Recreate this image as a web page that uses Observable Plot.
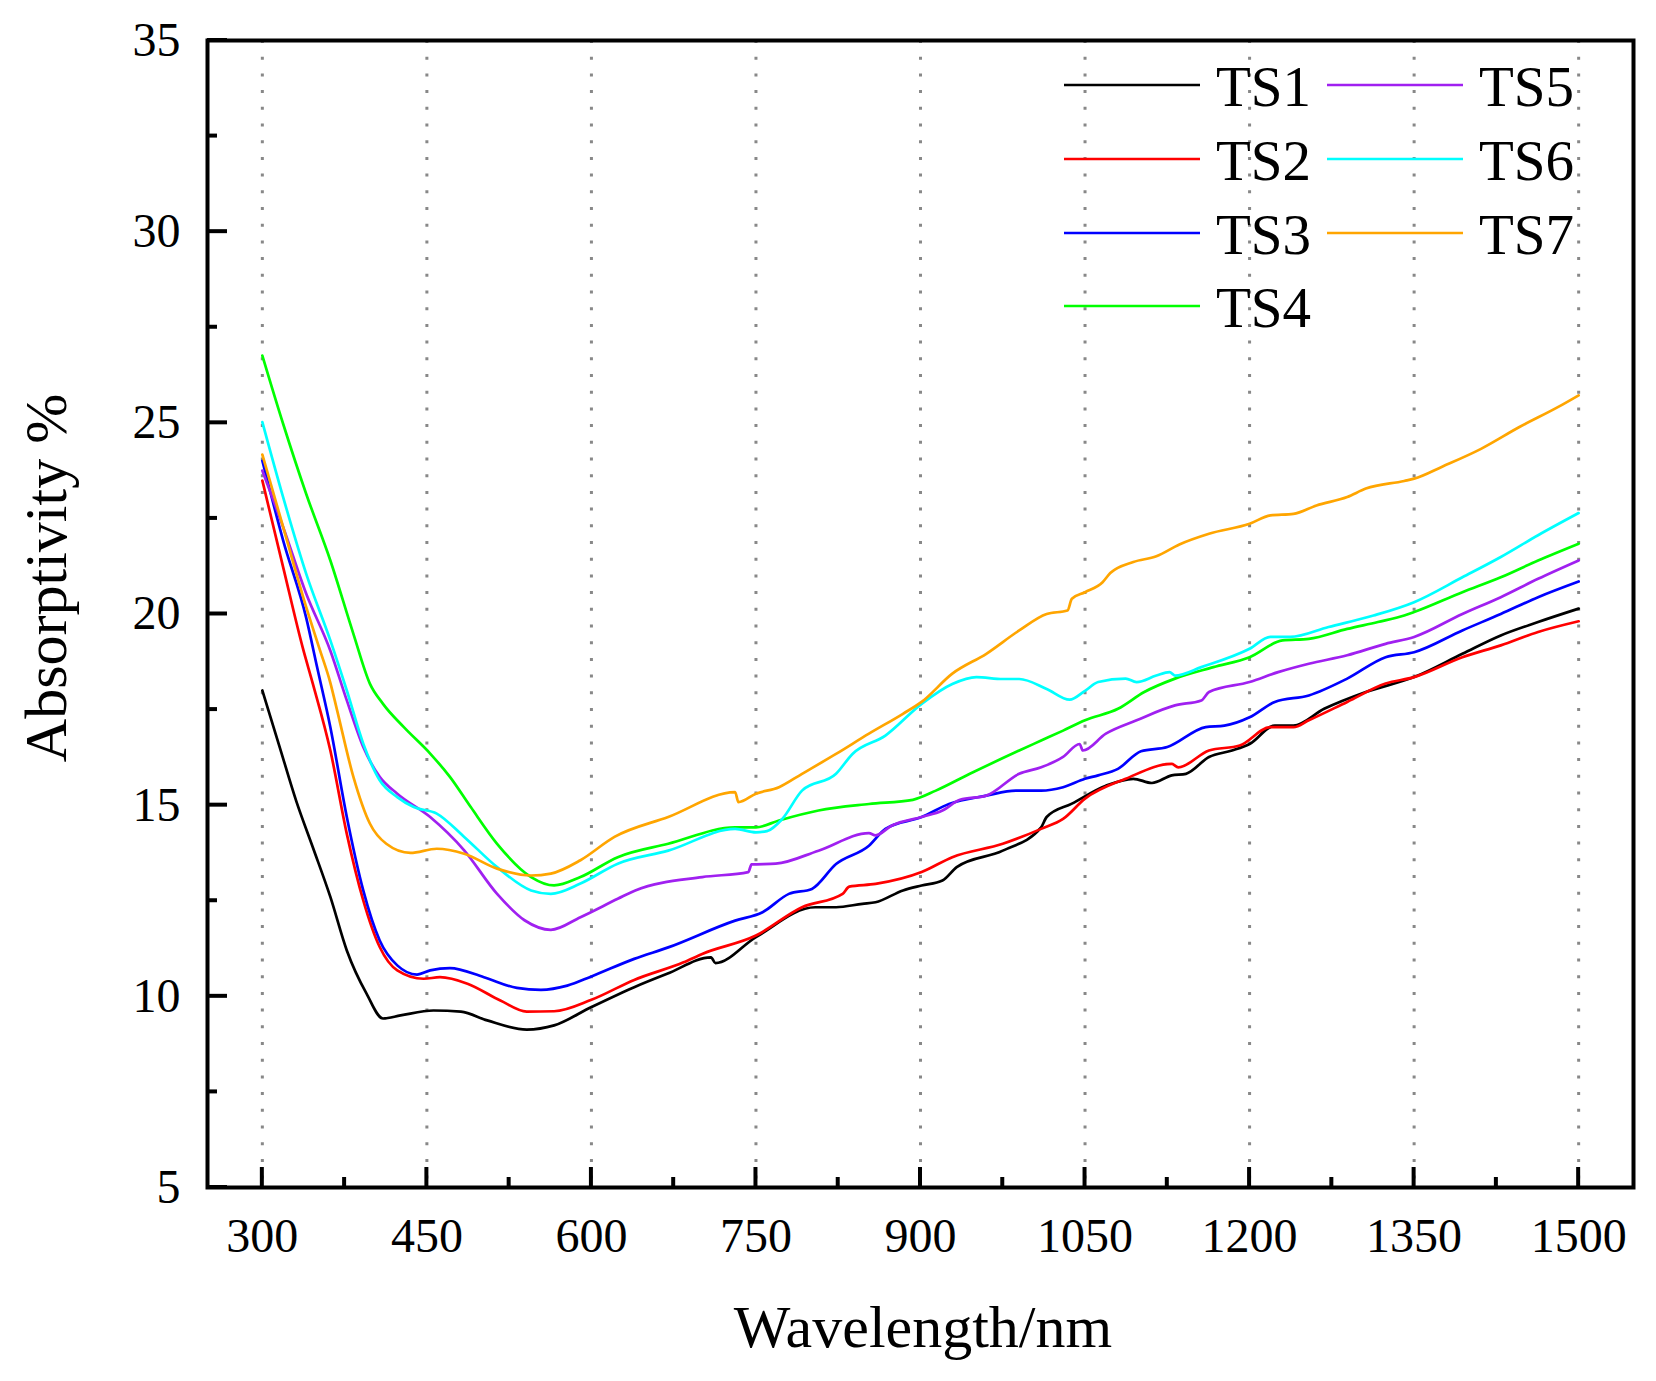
<!DOCTYPE html>
<html>
<head>
<meta charset="utf-8">
<script src="https://cdn.jsdelivr.net/npm/d3@7"></script>
<script src="https://cdn.jsdelivr.net/npm/@observablehq/plot@0.6"></script>
<style>
  html, body { margin: 0; padding: 0; background: #fff; }
  svg { display: block; }
</style>
</head>
<body>
<div id="chart"></div>
<script>
// ---- data (wavelength nm, absorptivity %) ----
const seriesNames = ["TS1", "TS2", "TS3", "TS4", "TS5", "TS6", "TS7"];
const seriesColors = ["#000000", "#ff0000", "#0000ff", "#00ff00", "#a020f0", "#00ffff", "#ffa500"];

const TS1 = [[300,18.0],[316,16.5],[331,15.1],[346,13.9],[362,12.6],[377,11.2],[395,10.07],[410,9.42],[426,9.5],[456,9.63],[481,9.6],[505,9.37],[541,9.13],[566,9.24],[600,9.72],[639,10.24],[669,10.59],[709,11.02],[713,10.87],[750,11.55],[804,12.33],[823,12.33],[847,12.42],[859,12.46],[884,12.77],[901,12.9],[920,13.03],[933,13.38],[975,13.81],[1010,14.42],[1015,14.69],[1038,15.04],[1069,15.51],[1094,15.69],[1111,15.58],[1129,15.78],[1142,15.82],[1163,16.26],[1184,16.43],[1200,16.6],[1223,17.08],[1240,17.08],[1268,17.52],[1306,17.96],[1350,18.35],[1394,18.96],[1429,19.44],[1463,19.79],[1500,20.14]];

const TS2 = [[300,23.49],[319,21.22],[337,19.1],[346,18.18],[362,16.43],[377,14.25],[392,12.51],[407,11.29],[423,10.68],[447,10.46],[462,10.5],[487,10.33],[517,9.89],[541,9.6],[566,9.61],[600,9.91],[639,10.43],[684,10.89],[701,11.11],[750,11.59],[792,12.33],[829,12.68],[835,12.87],[859,12.94],[901,13.25],[929,13.64],[975,13.99],[1010,14.38],[1030,14.64],[1050,15.17],[1087,15.69],[1129,16.08],[1135,15.99],[1163,16.43],[1191,16.56],[1219,17.04],[1240,17.04],[1254,17.22],[1289,17.7],[1324,18.18],[1350,18.35],[1394,18.87],[1429,19.18],[1463,19.53],[1500,19.81]];

const TS3 = [[300,24.01],[319,21.92],[340,19.9],[350,18.6],[362,17.04],[377,14.69],[392,12.77],[407,11.46],[423,10.81],[441,10.57],[453,10.68],[471,10.74],[502,10.5],[532,10.22],[554,10.17],[578,10.28],[600,10.52],[639,10.98],[670,11.28],[731,11.98],[756,12.2],[780,12.68],[801,12.81],[823,13.46],[853,13.94],[868,14.38],[901,14.69],[926,15.03],[960,15.25],[987,15.38],[1010,15.38],[1030,15.47],[1050,15.69],[1062,15.78],[1080,15.95],[1101,16.41],[1125,16.52],[1160,17.04],[1177,17.08],[1200,17.3],[1223,17.7],[1254,17.87],[1289,18.31],[1324,18.87],[1350,19.0],[1394,19.57],[1429,20.0],[1463,20.44],[1500,20.85]];

const TS4 = [[300,26.76],[319,24.97],[340,23.14],[362,21.4],[383,19.48],[398,18.18],[410,17.65],[429,17.04],[453,16.35],[471,15.74],[490,14.95],[514,13.99],[545,13.12],[566,12.9],[590,13.12],[624,13.64],[670,13.99],[731,14.42],[750,14.42],[771,14.6],[807,14.86],[853,15.03],[893,15.14],[914,15.38],[945,15.82],[990,16.43],[1010,16.69],[1030,16.95],[1050,17.22],[1080,17.52],[1104,17.96],[1132,18.31],[1167,18.61],[1200,18.87],[1230,19.31],[1254,19.35],[1289,19.61],[1317,19.79],[1341,19.96],[1350,20.05],[1394,20.57],[1429,20.96],[1463,21.4],[1500,21.84]];

const TS5 = [[300,23.75],[319,22.27],[340,20.53],[362,19.04],[377,17.74],[392,16.52],[407,15.74],[423,15.3],[453,14.69],[484,13.82],[514,12.68],[539,11.99],[563,11.74],[590,12.07],[624,12.55],[640,12.77],[701,13.12],[743,13.25],[746,13.45],[768,13.47],[807,13.81],[853,14.27],[859,14.21],[874,14.47],[901,14.69],[920,14.86],[936,15.14],[960,15.25],[990,15.82],[1010,15.99],[1030,16.26],[1045,16.6],[1048,16.43],[1069,16.87],[1097,17.22],[1132,17.61],[1156,17.74],[1163,17.96],[1200,18.22],[1226,18.48],[1254,18.7],[1289,18.92],[1324,19.22],[1350,19.4],[1394,20.0],[1429,20.44],[1463,20.92],[1500,21.4]];

const TS6 = [[300,25.02],[319,23.05],[340,21.05],[362,19.31],[377,18.0],[392,16.61],[407,15.65],[423,15.21],[438,14.95],[459,14.78],[484,14.17],[514,13.38],[545,12.77],[563,12.68],[590,12.95],[624,13.47],[670,13.81],[731,14.38],[750,14.29],[760,14.32],[774,14.64],[792,15.38],[823,15.82],[838,16.34],[868,16.82],[901,17.65],[929,18.17],[951,18.35],[975,18.3],[990,18.3],[1015,18.04],[1036,17.76],[1050,17.99],[1062,18.22],[1087,18.31],[1097,18.22],[1115,18.39],[1127,18.48],[1132,18.39],[1156,18.61],[1200,19.09],[1219,19.4],[1237,19.4],[1272,19.66],[1313,19.96],[1350,20.31],[1394,20.96],[1429,21.49],[1463,22.06],[1500,22.64]];

const TS7 = [[300,24.17],[319,22.27],[340,20.18],[352,19.1],[362,18.2],[368,17.5],[383,15.74],[398,14.52],[413,13.99],[435,13.75],[459,13.86],[484,13.73],[514,13.34],[545,13.16],[563,13.21],[590,13.56],[621,14.17],[670,14.69],[731,15.34],[734,15.08],[750,15.3],[771,15.47],[792,15.82],[823,16.34],[853,16.87],[884,17.39],[901,17.7],[929,18.44],[960,18.96],[990,19.57],[1015,20.0],[1034,20.09],[1038,20.4],[1050,20.57],[1066,20.83],[1073,21.07],[1094,21.36],[1115,21.51],[1136,21.82],[1163,22.1],[1200,22.36],[1219,22.58],[1240,22.62],[1261,22.84],[1289,23.06],[1306,23.28],[1341,23.48],[1350,23.54],[1376,23.86],[1411,24.32],[1446,24.89],[1481,25.41],[1500,25.72]];

const xMajorTicks = [300, 450, 600, 750, 900, 1050, 1200, 1350, 1500];
const xMinorTicks = [375, 525, 675, 825, 975, 1125, 1275, 1425];
const yMajorTicks = [5, 10, 15, 20, 25, 30, 35];
const yMinorTicks = [7.5, 12.5, 17.5, 22.5, 27.5, 32.5];
const xDomain = [250, 1550];
const yDomain = [5, 35];
const xTitle = "Wavelength/nm";
const yTitle = "Absorptivity %";

// ---- build table ----
const allSeries = [TS1, TS2, TS3, TS4, TS5, TS6, TS7];
const rows = [];
allSeries.forEach((s, i) => s.forEach(([wl, v]) => rows.push({series: seriesNames[i], wl, v})));

const W = 1656, H = 1381;
const font = "'Liberation Serif', 'Times New Roman', serif";

const plot = Plot.plot({
  width: W,
  height: H,
  marginLeft: 207,
  marginRight: 23,
  marginTop: 40,
  marginBottom: 194,
  style: {fontFamily: font, fontSize: "48px", color: "#000", background: "#fff"},
  x: {domain: xDomain},
  y: {domain: yDomain},
  color: {domain: seriesNames, range: seriesColors},
  marks: [
    Plot.ruleX(xMajorTicks, {x: d => d, stroke: "#888", strokeWidth: 3, strokeDasharray: "3,13.7"}),
    Plot.line(rows, {x: "wl", y: "v", z: "series", stroke: "series", strokeWidth: 2.7, curve: "monotone-x"}),
    Plot.axisX({ticks: xMajorTicks, tickSize: 0, tickPadding: 30, tickFormat: d => String(d), label: null, fontSize: 48, fill: "#000"}),
    Plot.axisY({ticks: yMajorTicks, tickSize: 0, tickPadding: 27, tickFormat: d => String(d), label: null, fontSize: 48, fill: "#000"}),
    Plot.frame({stroke: "#000", strokeWidth: 4})
  ]
});

document.getElementById("chart").appendChild(plot);

// ---- inward ticks, drawn with the plot's own scales ----
const xs = plot.scale("x"), ys = plot.scale("y");
const svg = d3.select(plot);
const x0 = xs.range[0], x1 = xs.range[1];
const yb = ys.apply(yDomain[0]);
const tg = svg.append("g").attr("stroke", "#000").attr("stroke-width", 4);
xMajorTicks.forEach(t => tg.append("line").attr("x1", xs.apply(t)).attr("x2", xs.apply(t)).attr("y1", yb).attr("y2", yb - 20));
xMinorTicks.forEach(t => tg.append("line").attr("x1", xs.apply(t)).attr("x2", xs.apply(t)).attr("y1", yb).attr("y2", yb - 10));
yMajorTicks.forEach(t => tg.append("line").attr("y1", ys.apply(t)).attr("y2", ys.apply(t)).attr("x1", x0).attr("x2", x0 + 20));
yMinorTicks.forEach(t => tg.append("line").attr("y1", ys.apply(t)).attr("y2", ys.apply(t)).attr("x1", x0).attr("x2", x0 + 10));

// ---- axis titles ----
svg.append("text")
  .attr("x", (x0 + x1) / 2 + 3).attr("y", 1347)
  .attr("text-anchor", "middle")
  .style("font-family", font).style("font-size", "60px").attr("fill", "#000")
  .text(xTitle);
svg.append("text")
  .attr("transform", "translate(66,578) rotate(-90)")
  .attr("text-anchor", "middle")
  .style("font-family", font).style("font-size", "60px").attr("fill", "#000")
  .text(yTitle);

// ---- legend (two columns) ----
const lg = svg.append("g").attr("text-anchor", "start");
const colX = [1064, 1327];
const rowY = [85, 159, 233, 306];
seriesNames.forEach((name, i) => {
  const col = i < 4 ? 0 : 1;
  const row = i < 4 ? i : i - 4;
  const lx = colX[col], ly = rowY[row];
  lg.append("line").attr("x1", lx).attr("x2", lx + 136).attr("y1", ly).attr("y2", ly)
    .attr("stroke", seriesColors[i]).attr("stroke-width", 2.7);
  lg.append("text").attr("x", lx + 152).attr("y", ly + 21)
    .attr("text-anchor", "start")
    .style("font-family", font).style("font-size", "57px").attr("fill", "#000")
    .text(name);
});
</script>
</body>
</html>
